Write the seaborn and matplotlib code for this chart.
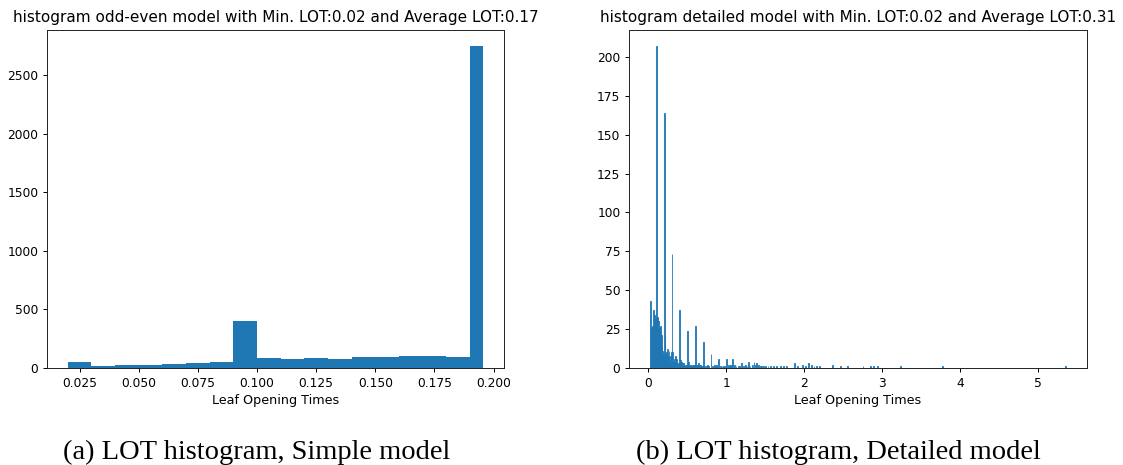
import numpy as np
import pandas as pd
import matplotlib
matplotlib.use("Agg")
import matplotlib.pyplot as plt
import seaborn as sns

# ---- odd-even (simple) model: leaf opening time histogram ----
simple_bin_edges = [0.02, 0.03, 0.04, 0.05, 0.06, 0.07, 0.08, 0.09, 0.10,
                    0.11, 0.12, 0.13, 0.14, 0.15, 0.16, 0.17, 0.18, 0.19, 0.1956]
simple_counts = [51, 14, 24, 25, 34, 43, 51, 400, 83, 74, 85, 74, 91, 91,
                 100, 100, 92, 2750]
simple_xticks = [0.025, 0.050, 0.075, 0.100, 0.125, 0.150, 0.175, 0.200]
simple_yticks = [0, 500, 1000, 1500, 2000, 2500]

# ---- detailed model: leaf opening time histogram (0.01 s bins) ----
detailed_bin_width = 0.01
detailed_min, detailed_max = 0.02, 5.36
# counts for consecutive bins starting at 0.02
detailed_dense_counts = [
    43, 18, 26, 27, 37, 35, 34, 32,            # 0.02 - 0.09
    207, 33, 32, 30, 26, 27, 21, 14, 11, 9,    # 0.10 - 0.19
    164, 22, 9, 10, 12, 8, 11, 4, 8, 10,       # 0.20 - 0.29
    73, 10, 4, 6, 8, 3, 6, 3, 2, 4,            # 0.30 - 0.39
    37, 5, 4, 3, 2, 3, 1, 2, 1, 2,             # 0.40 - 0.49
    24, 4, 1, 2, 2, 1, 2, 1, 2, 2,             # 0.50 - 0.59
    27, 2, 1, 2, 3, 2, 1, 2, 1, 1,             # 0.60 - 0.69
    17,                                        # 0.70
]
# sparse tail: bin start time and count
detailed_tail_times = [0.72, 0.74, 0.75, 0.77, 0.80, 0.82, 0.84, 0.86, 0.87,
                       0.90, 0.92, 0.94, 0.96, 0.97, 1.00, 1.02, 1.04, 1.05,
                       1.06, 1.08, 1.10, 1.12, 1.15, 1.17, 1.19, 1.22, 1.24,
                       1.26, 1.28, 1.30, 1.33, 1.35, 1.37, 1.38, 1.41, 1.43,
                       1.45, 1.47, 1.50, 1.53, 1.56, 1.60, 1.64, 1.69, 1.73,
                       1.77, 1.87, 1.91, 1.97, 2.01, 2.05, 2.09, 2.12, 2.15,
                       2.19, 2.36, 2.46, 2.55, 2.75, 2.85, 2.88, 2.94, 3.23,
                       3.77, 5.35]
detailed_tail_counts = [1, 1, 2, 1, 9, 1, 2, 1, 2,
                        6, 1, 1, 1, 1, 6, 2, 1, 2,
                        2, 6, 2, 1, 1, 1, 3, 1, 2,
                        1, 4, 1, 2, 4, 2, 3, 2, 1,
                        1, 1, 1, 1, 1, 1, 1, 1, 1,
                        1, 3, 1, 2, 1, 3, 2, 1, 1,
                        1, 2, 1, 1, 1, 1, 1, 1, 1,
                        1, 1]
detailed_xticks = [0, 1, 2, 3, 4, 5]
detailed_yticks = [0, 25, 50, 75, 100, 125, 150, 175, 200]

titles = ["histogram odd-even model with Min. LOT:0.02 and Average LOT:0.17",
          "histogram detailed model with Min. LOT:0.02 and Average LOT:0.31"]
xlabel = "Leaf Opening Times"
captions = ["(a) LOT histogram, Simple model",
            "(b) LOT histogram, Detailed model"]

BAR_COLOR = "#1f77b4"
S = 0.88  # overall tick/line scale

plt.rcParams.update({
    "font.family": ["DejaVu Sans"],
    "axes.linewidth": 0.8 * S,
    "xtick.major.width": 0.8 * S,
    "ytick.major.width": 0.8 * S,
    "xtick.major.size": 3.5 * S,
    "ytick.major.size": 3.5 * S,
    "xtick.labelsize": 10 * S,
    "ytick.labelsize": 10 * S,
    "xtick.major.pad": 3.5 * S,
    "ytick.major.pad": 3.5 * S,
})

W, H = 1123, 465
fig = plt.figure(figsize=(W / 100, H / 100), dpi=100)
fig.patch.set_facecolor("white")


def axes_px(x0, x1, top, bottom):
    return fig.add_axes([x0 / W, (H - bottom) / H, (x1 - x0) / W, (bottom - top) / H])


ax1 = axes_px(47, 504, 30, 368)
ax2 = axes_px(629, 1087, 30, 368)

# simple model
simple_edges = [float(e) for e in simple_bin_edges]
simple_centers = [(a + b) / 2 for a, b in zip(simple_edges[:-1], simple_edges[1:])]
simple_df = pd.DataFrame({"lot": simple_centers, "n": simple_counts})
sns.histplot(data=simple_df, x="lot", weights="n", bins=simple_edges,
             color=BAR_COLOR, alpha=1, linewidth=0, ax=ax1)
ax1.set_xticks(simple_xticks)
ax1.set_xticklabels([f"{t:.3f}" for t in simple_xticks])
ax1.set_yticks(simple_yticks)

# detailed model
d_edges = [float(e) for e in np.round(
    np.arange(detailed_min, detailed_max + detailed_bin_width / 2, detailed_bin_width), 2)]
dense_times = detailed_min + detailed_bin_width * np.arange(len(detailed_dense_counts))
d_times = np.concatenate([dense_times, detailed_tail_times])
d_counts = np.concatenate([detailed_dense_counts, detailed_tail_counts])
detailed_df = pd.DataFrame({"lot": d_times + detailed_bin_width / 2, "n": d_counts})
sns.histplot(data=detailed_df, x="lot", weights="n", bins=d_edges,
             color=BAR_COLOR, alpha=1, edgecolor=BAR_COLOR, linewidth=0.6, ax=ax2)
ax2.set_xticks(detailed_xticks)
ax2.set_yticks(detailed_yticks)

for ax, title in zip([ax1, ax2], titles):
    ax.set_title(title, fontsize=11.0, pad=5.5)
    ax.set_xlabel(xlabel, fontsize=9.2, labelpad=3.5)
    ax.set_ylabel("")
    for sp in ax.spines.values():
        sp.set_visible(True)
        sp.set_color("#222222")

fig.text(63 / W, 1 - 452 / H, captions[0], ha="left", va="center",
         family="Liberation Serif", fontsize=20.5)
fig.text(636 / W, 1 - 452 / H, captions[1], ha="left", va="center",
         family="Liberation Serif", fontsize=20.5)

fig.savefig("out.png", dpi=100, facecolor="white")
